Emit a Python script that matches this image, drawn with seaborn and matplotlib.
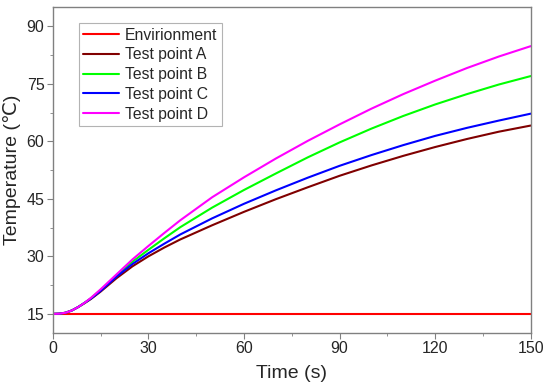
#!/usr/bin/env python3
import matplotlib
matplotlib.use("Agg")
import matplotlib.pyplot as plt
from matplotlib.ticker import MultipleLocator
import seaborn as sns
import pandas as pd

# Time axis (s) and temperatures
time_s = [0, 2, 4, 6, 8, 10, 12, 15, 20, 25, 30, 35, 40, 50, 60, 70, 80, 90, 100, 110, 120, 130, 140, 150]
env = [15] * len(time_s)
point_a = [15, 15.05, 15.3, 15.9, 16.8, 17.8, 18.9, 20.8, 24.3, 27.4, 30.0, 32.3, 34.4, 38.1, 41.6, 44.9, 48.0, 51.0, 53.7, 56.2, 58.5, 60.6, 62.5, 64.1]
point_b = [15, 15.05, 15.3, 15.9, 16.8, 17.9, 19.1, 21.2, 25.0, 28.6, 31.7, 34.7, 37.6, 42.7, 47.3, 51.6, 55.8, 59.7, 63.3, 66.6, 69.6, 72.3, 74.8, 77.0]
point_c = [15, 15.05, 15.3, 15.9, 16.8, 17.9, 19.0, 21.0, 24.7, 28.0, 30.8, 33.3, 35.7, 39.9, 43.7, 47.2, 50.5, 53.6, 56.4, 59.0, 61.4, 63.5, 65.4, 67.2]
point_d = [15, 15.05, 15.3, 15.9, 16.8, 17.9, 19.2, 21.4, 25.3, 29.2, 32.7, 36.1, 39.4, 45.4, 50.6, 55.5, 60.1, 64.4, 68.5, 72.3, 75.8, 79.1, 82.1, 84.8]

labels = ["Envirionment", "Test point A", "Test point B", "Test point C", "Test point D"]
colors = ["#ff0000", "#800000", "#00ff00", "#0000ff", "#ff00ff"]


def build_frame():
    rows = []
    for name, vals in zip(labels, [env, point_a, point_b, point_c, point_d]):
        for t, v in zip(time_s, vals):
            rows.append({"Time": t, "Temperature": v, "Series": name})
    return pd.DataFrame(rows)


def main():
    sns.set_style("ticks")
    plt.rcParams["font.family"] = ["Liberation Sans", "DejaVu Sans"]

    df = build_frame()
    fig = plt.figure(figsize=(5.5, 3.9), dpi=100)
    ax = fig.add_axes([0.096, 0.146, 0.869, 0.836])

    sns.lineplot(data=df, x="Time", y="Temperature", hue="Series",
                 hue_order=labels, palette=colors, linewidth=1.5, ax=ax)

    ax.set_xlim(0, 150)
    ax.set_ylim(10, 95)
    ax.xaxis.set_major_locator(MultipleLocator(30))
    ax.xaxis.set_minor_locator(MultipleLocator(15))
    ax.yaxis.set_major_locator(MultipleLocator(15))
    ax.yaxis.set_minor_locator(MultipleLocator(7.5))
    ax.tick_params(which="major", direction="out", length=4, width=0.8,
                   color="#808080", labelsize=11.5, pad=2)
    ax.tick_params(which="minor", direction="out", length=2, width=0.6, color="#808080")

    for sp in ax.spines.values():
        sp.set_visible(True)
        sp.set_color("#808080")
        sp.set_linewidth(1.0)

    ax.set_xlabel("Time (s)", fontsize=14, labelpad=6)
    ax.set_ylabel("Temperature (\u2103)", fontsize=14, labelpad=4)

    leg = ax.legend(loc="upper left", bbox_to_anchor=(0.054, 0.951), fontsize=11.3,
                    frameon=True, fancybox=False, handlelength=2.3,
                    borderpad=0.3, labelspacing=0.3, handletextpad=0.35, borderaxespad=0)
    leg.get_frame().set_edgecolor("#a0a0a0")
    leg.get_frame().set_linewidth(0.8)

    fig.savefig("out.png", dpi=100)


if __name__ == "__main__":
    main()
